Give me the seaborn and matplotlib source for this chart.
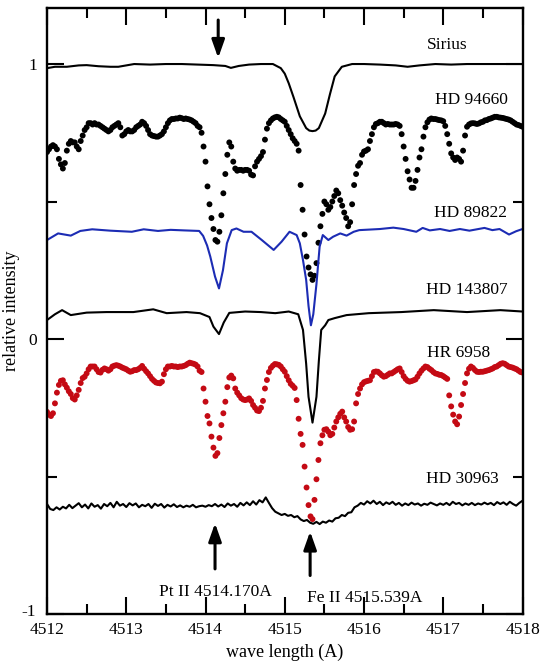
import numpy as np
import pandas as pd
import matplotlib
matplotlib.use("Agg")
import matplotlib.pyplot as plt
import matplotlib.transforms as mtransforms
import seaborn as sns

# ---------------- data ----------------
# dotted spectra sampled every 0.025 A from 4512 to 4518
dot_wave = np.round(np.linspace(4512.0, 4518.0, 241), 3)

hd94660 = [
    0.68, 0.69, 0.70, 0.705, 0.70, 0.69, 0.655, 0.635, 0.62, 0.64, 0.685, 0.71, 0.72, 0.715, 0.715, 0.70, 0.69, 0.72, 0.74, 0.76,
    0.77, 0.785, 0.785, 0.78, 0.785, 0.78, 0.78, 0.775, 0.77, 0.765, 0.76, 0.755, 0.76, 0.77, 0.775, 0.78, 0.785, 0.77, 0.74, 0.745,
    0.755, 0.76, 0.755, 0.755, 0.76, 0.77, 0.775, 0.78, 0.79, 0.785, 0.775, 0.76, 0.745, 0.74, 0.738, 0.736, 0.736, 0.74, 0.745, 0.755,
    0.77, 0.785, 0.795, 0.80, 0.80, 0.802, 0.802, 0.805, 0.803, 0.80, 0.802, 0.80, 0.798, 0.795, 0.79, 0.785, 0.775, 0.77, 0.75, 0.70,
    0.645, 0.555, 0.49, 0.44, 0.40, 0.36, 0.354, 0.39, 0.45, 0.53, 0.60, 0.67, 0.715, 0.70, 0.645, 0.62, 0.612, 0.615, 0.615, 0.612,
    0.615, 0.615, 0.612, 0.598, 0.595, 0.628, 0.645, 0.655, 0.665, 0.68, 0.725, 0.765, 0.785, 0.795, 0.802, 0.806, 0.808, 0.806, 0.80, 0.795,
    0.79, 0.775, 0.76, 0.745, 0.73, 0.72, 0.71, 0.685, 0.56, 0.47, 0.38, 0.30, 0.26, 0.235, 0.215, 0.23, 0.276, 0.35, 0.41, 0.455,
    0.50, 0.49, 0.47, 0.48, 0.50, 0.52, 0.54, 0.53, 0.505, 0.485, 0.46, 0.44, 0.41, 0.425, 0.49, 0.56, 0.60, 0.63, 0.64, 0.67,
    0.682, 0.685, 0.69, 0.72, 0.745, 0.77, 0.782, 0.785, 0.79, 0.79, 0.785, 0.78, 0.782, 0.78, 0.78, 0.78, 0.782, 0.78, 0.775, 0.745,
    0.70, 0.655, 0.61, 0.58, 0.55, 0.55, 0.575, 0.615, 0.66, 0.69, 0.736, 0.77, 0.788, 0.798, 0.802, 0.80, 0.80, 0.798, 0.796, 0.795,
    0.792, 0.775, 0.745, 0.71, 0.675, 0.66, 0.651, 0.66, 0.655, 0.645, 0.685, 0.74, 0.772, 0.78, 0.784, 0.785, 0.784, 0.782, 0.784, 0.788,
    0.79, 0.795, 0.796, 0.80, 0.802, 0.805, 0.808, 0.808, 0.806, 0.805, 0.804, 0.802, 0.80, 0.798, 0.795, 0.79, 0.785, 0.78, 0.778, 0.775,
    0.772,
]

hr6958 = [
    -0.265, -0.275, -0.28, -0.27, -0.234, -0.195, -0.167, -0.152, -0.15, -0.165, -0.177, -0.19, -0.20, -0.215, -0.22, -0.205, -0.185, -0.16, -0.142, -0.137,
    -0.125, -0.11, -0.10, -0.10, -0.10, -0.11, -0.12, -0.122, -0.112, -0.107, -0.11, -0.115, -0.11, -0.10, -0.097, -0.095, -0.097, -0.10, -0.104, -0.107,
    -0.11, -0.115, -0.119, -0.117, -0.113, -0.113, -0.11, -0.105, -0.098, -0.108, -0.117, -0.125, -0.135, -0.145, -0.152, -0.158, -0.16, -0.161, -0.155, -0.128,
    -0.11, -0.10, -0.10, -0.098, -0.10, -0.10, -0.102, -0.10, -0.10, -0.098, -0.095, -0.09, -0.086, -0.088, -0.09, -0.093, -0.10, -0.115, -0.12, -0.18,
    -0.228, -0.28, -0.307, -0.355, -0.395, -0.425, -0.415, -0.36, -0.313, -0.27, -0.228, -0.175, -0.14, -0.133, -0.143, -0.18, -0.195, -0.205, -0.215, -0.22,
    -0.222, -0.22, -0.216, -0.225, -0.24, -0.25, -0.26, -0.262, -0.25, -0.225, -0.18, -0.149, -0.12, -0.105, -0.097, -0.091, -0.092, -0.094, -0.10, -0.11,
    -0.119, -0.135, -0.15, -0.163, -0.17, -0.178, -0.222, -0.29, -0.345, -0.385, -0.464, -0.54, -0.604, -0.645, -0.655, -0.585, -0.51, -0.44, -0.379, -0.35,
    -0.33, -0.328, -0.337, -0.35, -0.345, -0.322, -0.30, -0.285, -0.272, -0.264, -0.285, -0.30, -0.32, -0.33, -0.328, -0.30, -0.234, -0.20, -0.18, -0.165,
    -0.157, -0.154, -0.152, -0.15, -0.135, -0.12, -0.118, -0.119, -0.125, -0.132, -0.137, -0.135, -0.13, -0.125, -0.125, -0.12, -0.115, -0.11, -0.107, -0.12,
    -0.135, -0.145, -0.152, -0.155, -0.153, -0.15, -0.147, -0.137, -0.125, -0.115, -0.107, -0.10, -0.102, -0.108, -0.113, -0.12, -0.125, -0.127, -0.13, -0.131,
    -0.135, -0.14, -0.145, -0.205, -0.245, -0.275, -0.30, -0.31, -0.282, -0.24, -0.20, -0.16, -0.125, -0.108, -0.10, -0.105, -0.113, -0.119, -0.12, -0.119,
    -0.119, -0.117, -0.115, -0.113, -0.11, -0.107, -0.102, -0.10, -0.095, -0.09, -0.088, -0.09, -0.095, -0.10, -0.102, -0.104, -0.107, -0.11, -0.115, -0.12,
    -0.122,
]

sirius_wave = [4512.00, 4512.10, 4512.25, 4512.40, 4512.50, 4512.65, 4512.80, 4512.90, 4513.00, 4513.10,
               4513.30, 4513.50, 4513.70, 4513.90, 4514.10, 4514.25, 4514.32, 4514.42, 4514.55, 4514.70,
               4514.85, 4514.95, 4515.00, 4515.05, 4515.11, 4515.19, 4515.27, 4515.31, 4515.35, 4515.39,
               4515.43, 4515.51, 4515.57, 4515.63, 4515.72, 4515.85, 4516.00, 4516.20, 4516.40, 4516.55,
               4516.70, 4516.90, 4517.10, 4517.30, 4517.50, 4517.70, 4517.90, 4518.00]
sirius = [0.985, 0.99, 0.99, 0.995, 0.996, 0.992, 0.99, 0.99, 0.995, 1.0,
          0.998, 1.0, 1.0, 0.998, 0.996, 0.993, 0.986, 0.993, 0.998, 1.0,
          1.0, 0.985, 0.965, 0.93, 0.88, 0.81, 0.767, 0.758, 0.756, 0.758,
          0.767, 0.82, 0.89, 0.955, 0.99, 1.0, 1.0, 0.998, 0.995, 0.99,
          0.995, 1.0, 0.998, 1.0, 1.0, 1.0, 1.0, 1.0]

hd89822_wave = [4512.00, 4512.14, 4512.30, 4512.42, 4512.57, 4512.80, 4513.07, 4513.22, 4513.40, 4513.56,
                4513.73, 4513.92, 4513.97, 4514.02, 4514.06, 4514.12, 4514.17, 4514.22, 4514.27, 4514.33,
                4514.39, 4514.48, 4514.58, 4514.71, 4514.86, 4514.96, 4515.06, 4515.15, 4515.19, 4515.23,
                4515.27, 4515.30, 4515.33, 4515.36, 4515.40, 4515.44, 4515.48, 4515.55, 4515.61, 4515.70,
                4515.78, 4515.87, 4515.94, 4516.20, 4516.37, 4516.50, 4516.66, 4516.74, 4516.83, 4516.96,
                4517.08, 4517.21, 4517.33, 4517.52, 4517.62, 4517.71, 4517.83, 4517.92, 4518.00]
hd89822 = [0.36, 0.384, 0.376, 0.393, 0.399, 0.394, 0.39, 0.399, 0.393, 0.397,
           0.395, 0.393, 0.375, 0.34, 0.30, 0.227, 0.184, 0.25, 0.348, 0.396,
           0.402, 0.39, 0.39, 0.36, 0.324, 0.354, 0.39, 0.378, 0.348, 0.287,
           0.215, 0.12, 0.05, 0.09, 0.20, 0.336, 0.378, 0.36, 0.372, 0.384,
           0.376, 0.39, 0.396, 0.40, 0.405, 0.40, 0.39, 0.404, 0.395, 0.40,
           0.393, 0.40, 0.394, 0.404, 0.396, 0.40, 0.38, 0.392, 0.40]

hd143807_wave = [4512.00, 4512.10, 4512.19, 4512.30, 4512.50, 4512.75, 4513.09, 4513.34, 4513.51, 4513.76,
                 4513.93, 4514.05, 4514.10, 4514.17, 4514.23, 4514.30, 4514.50, 4514.70, 4514.88, 4515.05,
                 4515.17, 4515.23, 4515.27, 4515.30, 4515.35, 4515.40, 4515.43, 4515.46, 4515.51, 4515.55,
                 4515.63, 4515.78, 4516.06, 4516.47, 4516.88, 4517.30, 4517.72, 4518.00]
hd143807 = [0.069, 0.09, 0.105, 0.087, 0.096, 0.098, 0.098, 0.108, 0.094, 0.098,
            0.094, 0.08, 0.045, 0.018, 0.06, 0.095, 0.10, 0.098, 0.094, 0.10,
            0.09, 0.033, -0.09, -0.21, -0.304, -0.21, -0.08, 0.033, 0.05, 0.069,
            0.076, 0.087, 0.094, 0.098, 0.105, 0.098, 0.105, 0.10]

# noisy spectrum sampled every 0.04 A
hd30963_wave = np.round(np.linspace(4512.0, 4518.0, 151), 3)
hd30963 = [
    -0.600, -0.618, -0.622, -0.612, -0.620, -0.610, -0.616, -0.603, -0.615, -0.606,
    -0.597, -0.612, -0.602, -0.616, -0.598, -0.610, -0.604, -0.617, -0.600, -0.608,
    -0.596, -0.612, -0.592, -0.606, -0.600, -0.611, -0.597, -0.605, -0.598, -0.612,
    -0.603, -0.608, -0.600, -0.614, -0.599, -0.607, -0.600, -0.613, -0.603, -0.609,
    -0.601, -0.611, -0.605, -0.612, -0.606, -0.610, -0.603, -0.612, -0.608, -0.606,
    -0.610, -0.604, -0.608, -0.600, -0.609, -0.602, -0.611, -0.598, -0.606, -0.600,
    -0.610, -0.596, -0.605, -0.594, -0.604, -0.590, -0.602, -0.586, -0.594, -0.576,
    -0.596, -0.615, -0.628, -0.634, -0.640, -0.636, -0.643, -0.640, -0.648, -0.644,
    -0.656, -0.662, -0.658, -0.668, -0.672, -0.665, -0.673, -0.664, -0.668, -0.660,
    -0.664, -0.652, -0.650, -0.640, -0.644, -0.632, -0.630, -0.612, -0.606, -0.596,
    -0.602, -0.590, -0.598, -0.588, -0.600, -0.592, -0.604, -0.594, -0.600, -0.592,
    -0.603, -0.596, -0.606, -0.598, -0.604, -0.595, -0.602, -0.598, -0.606, -0.599,
    -0.603, -0.595, -0.600, -0.605, -0.598, -0.603, -0.596, -0.604, -0.592, -0.600,
    -0.596, -0.605, -0.598, -0.603, -0.596, -0.604, -0.598, -0.602, -0.595, -0.601,
    -0.596, -0.604, -0.593, -0.600, -0.594, -0.603, -0.592, -0.600, -0.606, -0.596,
    -0.588,
]

star_names = ["Sirius", "HD 94660", "HD 89822", "HD 143807", "HR 6958", "HD 30963"]
label_pos_x = [4517.31, 4517.81, 4517.81, 4517.81, 4517.59, 4517.70]
label_pos_y = [1.07, 0.87, 0.46, 0.178, -0.05, -0.51]

x_ticks = [4512, 4513, 4514, 4515, 4516, 4517, 4518]
y_ticks = [-1, 0, 1]

# ---------------- plotting ----------------
sns.set_theme(style="white")
plt.rcParams["font.family"] = ["Liberation Serif", "DejaVu Serif"]
plt.rcParams["axes.unicode_minus"] = False
plt.rcParams["text.color"] = "black"
plt.rcParams["axes.labelcolor"] = "black"
plt.rcParams["xtick.color"] = "black"
plt.rcParams["ytick.color"] = "black"

fig = plt.figure(figsize=(5.5, 6.61), dpi=100)
ax = fig.add_axes([0.0855, 0.0711, 0.8645, 0.9169])

BLUE = "#1c2cb4"
RED = "#c40a14"

sns.lineplot(x=sirius_wave, y=sirius, ax=ax, color="black", lw=1.5, sort=False, estimator=None)
sns.scatterplot(x=dot_wave, y=hd94660, ax=ax, color="black", s=18, linewidth=0, edgecolor="none")
sns.lineplot(x=hd89822_wave, y=hd89822, ax=ax, color=BLUE, lw=1.5, sort=False, estimator=None)
sns.lineplot(x=hd143807_wave, y=hd143807, ax=ax, color="black", lw=1.5, sort=False, estimator=None)
sns.scatterplot(x=dot_wave, y=hr6958, ax=ax, color=RED, s=18, linewidth=0, edgecolor="none")
sns.lineplot(x=hd30963_wave, y=hd30963, ax=ax, color="black", lw=1.5, sort=False, estimator=None)

ax.set_xlim(4512, 4518)
ax.set_ylim(-1, 1.204)

ax.set_xticks(x_ticks)
ax.set_xticks(np.arange(4512.5, 4518, 1.0), minor=True)
ax.set_yticks(y_ticks)
ax.set_yticks([-0.5, 0.5], minor=True)
ax.set_xticklabels([str(t) for t in x_ticks])
ax.set_yticklabels([str(t) for t in y_ticks])

ax.tick_params(axis="both", which="major", direction="in", length=12, width=1.5,
               left=True, bottom=True, top=True, right=True, labelsize=12.5, colors="black")
ax.tick_params(axis="x", which="major", pad=6)
ax.tick_params(axis="y", which="major", pad=7)
ax.tick_params(axis="both", which="minor", direction="in", length=7, width=1.5,
               left=True, bottom=True, top=True, right=True, colors="black")
for sp in ax.spines.values():
    sp.set_visible(True)
    sp.set_linewidth(1.7)
    sp.set_color("black")

# nudge the "-1" label slightly up so it does not collide with "4512"
lab = ax.get_yticklabels()[0]
lab.set_transform(lab.get_transform() + mtransforms.ScaledTranslation(-1 / 72, 3 / 72, fig.dpi_scale_trans))

ax.set_xlabel("wave length (A)", fontsize=13, labelpad=4, color="black")
ax.set_ylabel("relative intensity", fontsize=13, labelpad=1, color="black")

for name, lx, ly in zip(star_names, label_pos_x, label_pos_y):
    ax.text(lx, ly, name, ha="right", va="center", fontsize=12.5, color="black")

arrow = dict(arrowstyle="-|>,head_length=0.9,head_width=0.32", lw=2.2, color="black",
             shrinkA=0, shrinkB=0)
ax.annotate("", xy=(4514.16, 1.022), xytext=(4514.16, 1.16), arrowprops=arrow)
ax.annotate("", xy=(4514.12, -0.67), xytext=(4514.12, -0.836), arrowprops=arrow)
ax.annotate("", xy=(4515.32, -0.70), xytext=(4515.32, -0.86), arrowprops=arrow)

ax.text(4514.12, -0.92, "Pt II 4514.170A", ha="center", va="center", fontsize=12.5, color="black")
ax.text(4516.01, -0.94, "Fe II 4515.539A", ha="center", va="center", fontsize=12.5, color="black")

fig.savefig("out.png", dpi=100, facecolor="white")
